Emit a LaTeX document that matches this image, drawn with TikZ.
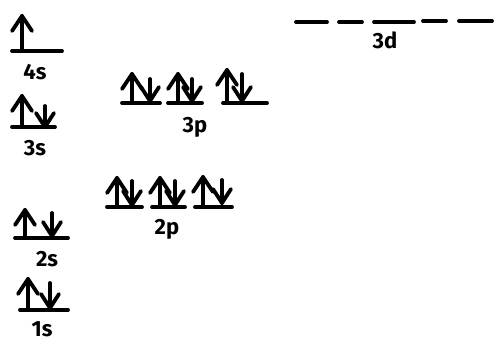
\documentclass[tikz,border=0pt]{standalone}
\usepackage{fontspec}
\setmainfont{Fira Sans}
\begin{document}
\begin{tikzpicture}[x=1pt,y=-1pt,
  ink/.style={line width=3.8pt,line cap=round,line join=round,black},
  lbl/.style={font=\fontsize{22}{22}\selectfont\bfseries,inner sep=0pt}]
\useasboundingbox (0,0) rectangle (498,350);
% orbital level line from x1 to x2 at height y
\newcommand\orblevel[3]{\draw[ink] (#1,#3) -- (#2,#3);}
% spin-up arrow at x, from base y to top y
\newcommand\spinup[3]{\draw[ink] (#1,#2) -- (#1,#3);
  \draw[ink] (#1-10,#3+15) -- (#1,#3) -- (#1+10,#3+15);}
% spin-down arrow at x, from top y down to base y
\newcommand\spindn[3]{\draw[ink] (#1,#3) -- (#1,#2);
  \draw[ink] (#1-9,#2-14) -- (#1,#2) -- (#1+9,#2-14);}

% 4s
\orblevel{12}{62}{51}
\spinup{22}{51}{16}
\node[lbl] (l4s) at (35,72) {4s};
% 3s
\orblevel{12}{55}{127}
\spinup{22}{127}{96}
\spindn{45}{127}{106}
\node[lbl] (l3s) at (35,148) {3s};
% 2s
\orblevel{15}{68}{238}
\spinup{25}{238}{210}
\spindn{52}{236}{213}
\node[lbl] (l2s) at (47,259) {2s};
% 1s
\orblevel{20}{68}{310}
\spinup{28}{310}{279}
\spindn{50}{308}{283}
\node[lbl] (l1s) at (42,329) {1s};

% 3p
\orblevel{122}{160}{103}
\spinup{132}{103}{74}
\spindn{150}{101}{79}
\orblevel{168}{202}{103}
\spinup{178}{103}{74}
\spindn{192}{101}{79}
\orblevel{223}{267}{103}
\spinup{227}{103}{70}
\spindn{242}{101}{74}
\node[lbl] (l3p) at (195,127) {3p};

% 2p
\orblevel{107}{142}{207}
\spinup{117}{207}{178}
\spindn{132}{205}{181}
\orblevel{152}{185}{207}
\spinup{160}{207}{178}
\spindn{175}{205}{181}
\orblevel{195}{232}{207}
\spinup{203}{207}{177}
\spindn{222}{203}{180}
\node[lbl] (l2p) at (167,229) {2p};

% 3d
\orblevel{296}{327}{22}
\orblevel{339}{362}{22}
\orblevel{374}{414}{22}
\orblevel{423}{446}{21}
\orblevel{459}{492}{21}
\node[lbl] (l3d) at (385,40) {3d};
\end{tikzpicture}
\end{document}
